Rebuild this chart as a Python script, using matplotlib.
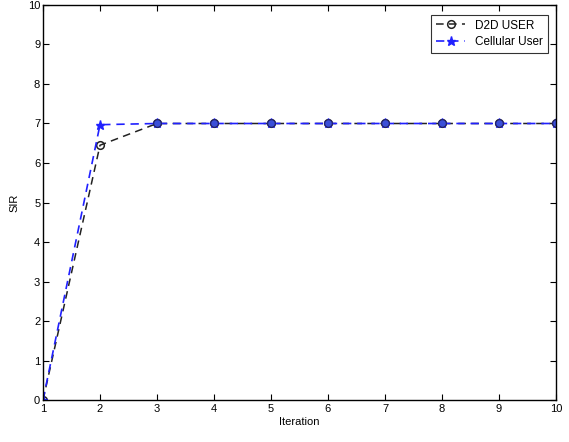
import matplotlib
matplotlib.use("Agg")
import matplotlib.pyplot as plt

iterations = [1, 2, 3, 4, 5, 6, 7, 8, 9, 10]
d2d_sir = [0, 6.45, 7, 7, 7, 7, 7, 7, 7, 7]
cell_sir = [0, 6.97, 7, 7, 7, 7, 7, 7, 7, 7]

plt.rcParams['font.family'] = ['Liberation Sans', 'DejaVu Sans']
fig = plt.figure(figsize=(5.69, 4.42), dpi=100)
ax = fig.add_axes([0.0756, 0.095, 0.9015, 0.8937])

ax.plot(iterations, d2d_sir, linestyle=(0, (5, 3.5)), color='#222222', lw=1.1,
        marker='o', markersize=5.5, markerfacecolor='none', markeredgecolor='#222222',
        markeredgewidth=1.1, label='D2D USER')
ax.plot(iterations, cell_sir, linestyle=(0, (5, 3.5)), color='#2020ff', lw=1.2,
        marker='*', markersize=6.5, markerfacecolor='#2020ff', markeredgecolor='#2020ff',
        label='Cellular User')
# blue filled appearance where points overlap
ax.plot(iterations[2:], cell_sir[2:], linestyle='none', marker='o', markersize=5.5,
        markerfacecolor='#3b4fd8', markeredgecolor='#222266', markeredgewidth=0.8)

ax.set_xlim(1, 10)
ax.set_ylim(0, 10)
ax.set_xticks(iterations)
ax.set_yticks(range(0, 11))
ax.tick_params(direction='in', length=4, labelsize=8, top=True, right=True, width=0.8)
ax.tick_params(axis='x', pad=3)
ax.tick_params(axis='y', pad=2)
for s in ax.spines.values():
    s.set_linewidth(1.0)
ax.set_xlabel('Iteration', fontsize=8, labelpad=2)
ax.set_ylabel('SIR', fontsize=8, labelpad=6)

leg = ax.legend(loc='upper right', fontsize=8.5, frameon=True, fancybox=False,
                edgecolor='black', handlelength=2.5, borderpad=0.4, labelspacing=0.4,
                bbox_to_anchor=(0.995, 0.99))
leg.get_frame().set_linewidth(0.8)

fig.savefig('out.png', dpi=100)
